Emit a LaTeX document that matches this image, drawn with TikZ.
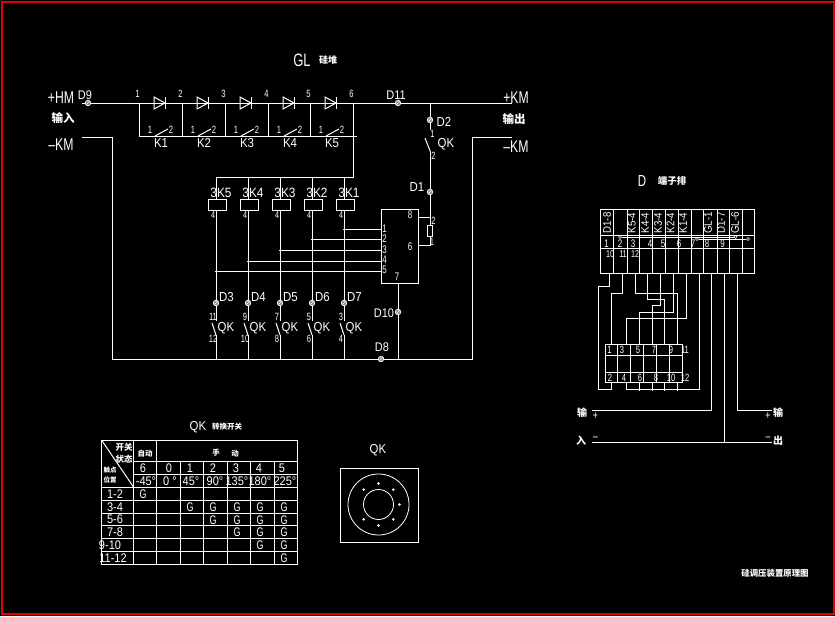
\documentclass[tikz,border=0pt]{standalone}
\usepackage{fontspec}
\setmainfont{Liberation Sans}
\newfontfamily\cad[FakeStretch=0.72]{Liberation Sans}
\newfontfamily\cadw[FakeStretch=0.88]{Liberation Sans}
\newfontfamily\cjk{Noto Sans CJK SC}
\usepackage{tikz}
\usetikzlibrary{positioning}
\newcommand{\cadsize}[1]{\cad\fontsize{#1}{#1}\selectfont}
\newcommand{\cadwsize}[1]{\cadw\fontsize{#1}{#1}\selectfont}
\newcommand{\cjksize}[1]{\cjk\bfseries\fontsize{#1}{#1}\selectfont}
\tikzset{
  wire/.style={draw=white, line width=1pt},
  cadtxt/.style={text=white, inner sep=0pt, font=\cadsize{#1}},
  widetxt/.style={text=white, inner sep=0pt, font=\cadwsize{#1}},
  cjktxt/.style={text=white, inner sep=0pt, font=\cjksize{#1}},
  term/.style={circle, draw=white, fill=white!55!black, line width=0.7pt, inner sep=0pt, minimum size=5.5pt,
               path picture={\draw[white, line width=0.6pt] (path picture bounding box.south west) -- (path picture bounding box.north east);}},
  coil/.style={rectangle, draw=white, line width=1pt, inner sep=0pt, minimum width=18pt, minimum height=11pt},
  knob/.style={circle, draw=white, line width=0.5pt, fill=white, inner sep=0pt, minimum size=2pt},
}
\begin{document}
\begin{tikzpicture}[x=1pt, y=-1pt]
  \useasboundingbox (0,0) rectangle (835,616);
  \fill[black] (0,0) rectangle (835,616);
  \draw[red!90!black, line width=2pt] (1.5,1.5) rectangle (833.5,614);

  % titles
  \node[cadtxt=18] (titleGL) at (302,60) {GL};
  \node[cjktxt=9] (titleGLcn) at (328,60) {硅堆};
  \node[cjktxt=8.4] (titleMain) at (775,573) {硅调压装置原理图};
  \node[widetxt=13] (titleQK) at (198,427) {QK};
  \node[cjktxt=7.5] (titleQKcn) at (227,427) {转换开关};
  \node[widetxt=13] (titleQKb) at (378,450) {QK};
  \node[cadtxt=16] (titleD) at (642,181) {D};
  \node[cjktxt=9.5] (titleDcn) at (672,181) {端子排};

  % supply ends
  \node[cadtxt=17] (hmL) at (61,98) {+HM};
  \node[cjktxt=11.5] (hmCn) at (63,118) {输入};
  \node[cadtxt=17] (kmL) at (61,145) {–KM};
  \node[cadtxt=17] (hmR) at (516,98) {+KM};
  \node[cjktxt=11.5] (hmRcn) at (514,119) {输出};
  \node[cadtxt=17] (kmR) at (516,147) {–KM};

  \coordinate (busL) at (82,103);
  \coordinate (busR) at (512,103);
  \draw[wire] (busL) -- (busR);
  \node[term] (d9) at (88,103) {};
  \node[widetxt=12.5] (d9txt) at (85,95) {D9};
  \node[term] (d11) at (398,103) {};
  \node[widetxt=12.5] (d11txt) at (396,95) {D11};

  % diode string with bypass contacts
  \foreach \i/\x in {1/139,2/182,3/225,4/268,5/310,6/353}{
    \coordinate (jt\i) at (\x,103);
    \coordinate (jb\i) at (\x,137);
    \draw[wire] (jt\i) -- (jb\i);
    \node[cadtxt=10.5] (num\i) at (\x-1.5,94) {\i};
  }
  \draw[wire] (139,136) -- (357,136);
  \foreach \i/\x in {1/160,2/203,3/246,4/289,5/331}{
    \draw[wire] (\x-6,97) -- (\x+5,103) -- (\x-6,109) -- cycle;
    \draw[wire] (\x+5,97) -- (\x+5,109);
    \draw[wire] (\x-5,136) -- (\x+8,129);
    \node[cadtxt=10.5] (ka\i) at (\x-10,130) {1};
    \node[cadtxt=10.5] (kb\i) at (\x+11,130) {2};
    \node[widetxt=13] (kn\i) at (\x+1,143) {K\i};
  }

  % minus rails
  \coordinate (railL) at (82,137.5);
  \coordinate (railLb) at (112,359);
  \coordinate (railR) at (512,137.5);
  \coordinate (railRb) at (472.5,359);
  \draw[wire] (railL) -| (railLb) -- (railRb) |- (railR);

  % relay coils and QK contacts
  \coordinate (coilbus) at (353,177);
  \draw[wire] (jb6) -- (coilbus) -- (216,177);
  \foreach \i/\n/\x/\a/\b in {5/3/216/11/12,4/4/248/9/10,3/5/280/7/8,2/6/312/5/6,1/7/344/3/4}{
    \coordinate (ct\i) at (\x,177);
    \coordinate (sa\i) at (\x,321);
    \coordinate (sb\i) at (\x,335);
    \coordinate (cb\i) at (\x,360);
    \node[coil] (coil\i) at (\x+1,204.5) {};
    \draw[wire] (ct\i) -- (\x,199);
    \draw[wire] (\x,210) -- (sa\i);
    \draw[wire] (sb\i) -- (cb\i);
    \draw[wire] (\x-4,323) -- (sb\i);
    \node[widetxt=13.5] (cn\i) at (\x+5,193) {3K\i};
    \node[cadtxt=10] (cf\i) at (\x-3,215) {4};
    \node[term] (dt\i) at (\x,303) {};
    \node[widetxt=13] (dl\i) at (\x+10.5,297) {D\n};
    \node[cadtxt=10.5] (sta\i) at (\x-3,317) {\a};
    \node[cadtxt=10.5] (stb\i) at (\x-3,339) {\b};
    \node[widetxt=13] (qk\i) at (\x+10,328) {QK};
  }

  % regulator unit
  \node[draw=white, line width=1pt, inner sep=0pt, minimum width=36.5pt, minimum height=73.5pt, anchor=north west] (unit) at (381,209) {};
  \foreach \i/\x/\y/\l in {1/343/229.5/229,2/311/239.5/239,3/279/250/249.5,4/247/261/260,5/215/271/270}{
    \coordinate (tap\i) at (\x,\y);
    \coordinate (pin\i) at (381,\y);
    \draw[wire] (tap\i) -- (pin\i);
    \node[cadtxt=11] (pn\i) at (384.5,\l) {\i};
  }
  \node[cadtxt=11] (pn8) at (410,215) {8};
  \node[cadtxt=11] (pn6) at (410,247) {6};
  \node[cadtxt=11] (pn7) at (397,277) {7};
  \coordinate (pin7) at (398.5,282.5);
  \coordinate (pin7b) at (398.5,360);
  \draw[wire] (pin7) -- (pin7b);
  \node[term] (d10) at (398,312) {};
  \node[widetxt=12.5] (d10txt) at (384,313) {D10};
  \node[term] (d8) at (381,359) {};
  \node[widetxt=12.5] (d8txt) at (382,347) {D8};

  % branch to the unit
  \coordinate (brT) at (430.5,103);
  \coordinate (brA) at (430.5,130);
  \coordinate (brB) at (430.5,152);
  \coordinate (brC) at (430.5,225);
  \coordinate (brD) at (430.5,236);
  \coordinate (brE) at (430.5,245);
  \coordinate (pin8) at (417.5,217);
  \coordinate (pin6) at (417.5,245);
  \draw[wire] (brT) -- (brA);
  \draw[wire] (425,138) -- (brB);
  \draw[wire] (brB) -- (brC);
  \draw[wire] (brD) -- (brE) -- (pin6);
  \draw[wire] (pin8) -- (430.5,217);
  \node[draw=white, line width=1pt, inner sep=0pt, minimum width=5.5pt, minimum height=11pt] (rs) at (430,230.5) {};
  \node[term] (d2) at (430,120) {};
  \node[widetxt=13] (d2txt) at (444,122) {D2};
  \node[cadtxt=10.5] (br1) at (432.5,134) {1};
  \node[cadtxt=10.5] (br2) at (433.5,155.5) {2};
  \node[widetxt=13] (brq) at (446,144) {QK};
  \node[term] (d1) at (430,192) {};
  \node[widetxt=13] (d1txt) at (417,187) {D1};
  \node[cadtxt=10.5] (rs2) at (433.5,220.5) {2};
  \node[cadtxt=10.5] (rs1) at (432,242) {1};

  % switch table
  \coordinate (tabA) at (101.5,440);
  \coordinate (tabB) at (297,564);
  \draw[wire] (tabA) rectangle (tabB);
  \foreach \y in {487,500,513,525.5,538,551}
    \draw[wire] (101.5,\y) -- (297,\y);
  \foreach \y in {461.5,474.5}
    \draw[wire] (133.5,\y) -- (297,\y);
  \foreach \x in {133.5,156.5}
    \draw[wire] (\x,440) -- (\x,564);
  \foreach \x in {180,203.5,227.5,250.5,274}
    \draw[wire] (\x,461.5) -- (\x,564);
  \draw[wire] (tabA) -- (133.5,487);
  \node[cjktxt=8.5] (tk1) at (124,447) {开关};
  \node[cjktxt=8.5] (tk2) at (124,459) {状态};
  \node[cjktxt=6.5] (tk3) at (110,470) {触点};
  \node[cjktxt=6.5] (tk4) at (110,480) {位置};
  \node[cjktxt=7.5] (tk5) at (145,454) {自动};
  \node[cjktxt=7.5] (tk6) at (216,453) {手};
  \node[cjktxt=7.5] (tk7) at (235,454) {动};
  \foreach \i/\x/\p in {a/143/6,b/169/0,c/190/1,d/213/2,e/236/3,f/259/4,g/282/5}
    \node[widetxt=12.5] (pos\i) at (\x,468) {\p};
  \foreach \i/\x/\d in {a/146/-45°,b/170/0 °,c/191/45°,d/215/90°,e/237/135°,f/260/180°,g/285/225°}
    \node[widetxt=12.5] (deg\i) at (\x,481) {\d};
  \foreach \i/\x/\y/\r in {a/115/494/1-2,b/115/507/3-4,c/115/519.5/5-6,d/115/532/7-8,e/110/545/9-10,f/113/558/11-12}
    \node[widetxt=12.5] (row\i) at (\x,\y) {\r};
  \foreach \i/\x/\y in {a/143/494,
      b/190/507,c/213/507,d/237/507,e/260/507,f/284/507,
      g/213/520,h/237/520,i/260/520,j/284/520,
      k/237/532.5,l/260/532.5,m/284/532.5,
      n/260/545,o/284/545,
      p/284/558}
    \node[cadtxt=12.5] (gg\i) at (\x,\y) {G};

  % QK face
  \node[draw=white, line width=1pt, inner sep=0pt, minimum width=78pt, minimum height=74pt] (face) at (379,505) {};
  \node[circle, draw=white, line width=0.8pt, inner sep=0pt, minimum size=61pt] (ringA) at (378.5,504.5) {};
  \node[circle, draw=white, line width=0.8pt, inner sep=0pt, minimum size=30pt] (ringB) at (378.5,504.5) {};
  \foreach \a in {90,135,45,0,-45,-90,-135}
    \node[knob] (knob\a) at ({378.5+21*cos(\a)},{504.5+21*sin(\a)}) {};

  % terminal strip
  \coordinate (tsA) at (600,209);
  \coordinate (tsB) at (754,273);
  \draw[wire] (tsA) rectangle (tsB);
  \draw[wire] (600,235) -- (754,235);
  \draw[wire] (600,248) -- (754,248);
  \foreach \x in {613,627,639,652,665,678,691,703,717,729,742}
    \draw[wire] (\x,209) -- (\x,273);
  \foreach \i/\x/\t in {a/607/D1-8,b/632/K5-4,c/645/K4-4,d/658/K3-4,e/670.5/K2-4,f/683/K1-4,g/708/GL-1,h/721/D1-7,i/735/GL-6}
    \node[widetxt=11, rotate=90] (st\i) at (\x,223) {\t};
  \foreach \i/\x in {1/606.5,2/620,3/633,4/650,5/663,6/679,7/693,8/707,9/722.5}
    \node[cadtxt=11] (tn\i) at (\x,244) {\i};
  \foreach \i/\x in {10/610,11/623,12/635}
    \node[cadtxt=10] (tn\i) at (\x,254) {\i};
  \node[knob, fill=black, minimum size=3pt] (ln1) at (620,237) {};
  \node[knob, fill=black, minimum size=3pt] (ln2) at (735.5,237) {};
  \node[knob, fill=black, minimum size=3pt] (ln3) at (697,239) {};
  \node[knob, fill=black, minimum size=3pt] (ln4) at (748,239) {};
  \draw[white, line width=0.7pt] (ln1) -- (ln2);
  \draw[white, line width=0.7pt] (ln3) -- (ln4);

  % relay block
  \coordinate (rbA) at (605,344);
  \coordinate (rbB) at (682.5,382.5);
  \draw[wire] (rbA) rectangle (rbB);
  \draw[wire] (605,355.5) -- (682.5,355.5);
  \draw[wire] (605,372.5) -- (682.5,372.5);
  \foreach \x in {617.5,630.5,643.5,656.5,669}
    \draw[wire] (\x,344) -- (\x,382.5);
  \foreach \i/\x in {1/609.5,3/622,5/638,7/654,9/671,11/685}
    \node[cadtxt=10.5] (rt\i) at (\x,350) {\i};
  \foreach \i/\x in {2/610,4/624,6/640,8/656,10/671,12/685}
    \node[cadtxt=10.5] (rt\i) at (\x,377.5) {\i};

  % wiring strip to block
  \foreach \i/\x in {1/609.5,2/622.5,3/635.5,4/647.5,5/660,6/673,7/686,8/699.5,9/711.5,10/724,11/737.5}
    \coordinate (tb\i) at (\x,273);
  \foreach \i/\x in {1/611,2/626,3/639,4/652,5/664,6/677}
    \coordinate (rb\i) at (\x,344);
  \draw[wire] (tb1) -- (609.5,286) -- (598,286) -- (598,389) -- (611.5,389) -- (611.5,382.5);
  \draw[wire] (tb2) -- (622.5,293) -- (611,293) -- (rb1);
  \draw[wire] (tb3) -- (635.5,293) -- (677,293) -- (rb6);
  \draw[wire] (tb4) -- (647.5,299) -- (664,299) -- (rb5);
  \draw[wire] (tb5) -- (660,305) -- (652,305) -- (rb4);
  \draw[wire] (tb6) -- (673,312) -- (639,312) -- (rb3);
  \draw[wire] (tb7) -- (686,318) -- (626,318) -- (rb2);
  \draw[wire] (tb8) -- (699.5,389) -- (626,389) -- (626,382.5);
  \foreach \x in {639,652,664,677}
    \draw[wire] (\x,382.5) -- (\x,390.5);

  % outputs of the strip
  \coordinate (outL) at (592,410);
  \coordinate (outR) at (772,410);
  \coordinate (minL) at (592,442);
  \coordinate (minR) at (772,442);
  \draw[wire] (tb9) |- (outL);
  \draw[wire] (tb11) |- (outR);
  \draw[wire] (tb10) -- (724,443);
  \draw[wire] (minL) -- (minR);
  \node[cjktxt=10] (ioA) at (582,413) {输};
  \node[cjktxt=10] (ioB) at (581,441) {入};
  \node[cjktxt=10] (ioC) at (778,413) {输};
  \node[cjktxt=10] (ioD) at (778,441) {出};
  \node[cadtxt=12] (ioE) at (595.5,416) {+};
  \node[cadtxt=12] (ioF) at (595.5,439) {–};
  \node[cadtxt=12] (ioG) at (768,416) {+};
  \node[cadtxt=12] (ioH) at (768,439) {–};
\end{tikzpicture}
\end{document}
